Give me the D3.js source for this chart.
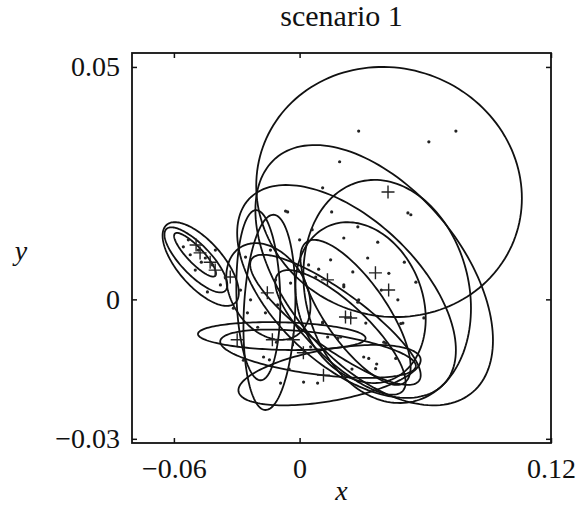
<!DOCTYPE html>
<html>
<head>
<meta charset="utf-8">
<script src="https://cdn.jsdelivr.net/npm/d3@7/dist/d3.min.js"></script>
<style>
  html, body { margin: 0; padding: 0; background: #fff; }
  svg { display: block; }
  text { font-family: "Liberation Serif", "DejaVu Serif", serif; fill: #111; }
</style>
</head>
<body>
<svg id="chart" width="579" height="505"></svg>
<script>
// ---------------- data ----------------
const titleText = "scenario 1";
const xLabel = "x";
const yLabel = "y";
const xDomain = [-0.08, 0.12];
const yDomain = [-0.0309, 0.053];
const xTicks = [-0.06, 0, 0.12];
const xTickLabels = ["\u22120.06", "0", "0.12"];
const yTicks = [-0.03, 0, 0.05];
const yTickLabels = ["\u22120.03", "0", "0.05"];

// confidence ellipses: centre, half-extent in x and y, correlation
const ellipseCx  = [0.0427, 0.0356, 0.0224, 0.0418, 0.0291, 0.0267, -0.0472, -0.0495, -0.0499, -0.0085, 0.0088, -0.0144, -0.0149, 0.0143, 0.0171, 0.0195, -0.0197];
const ellipseCy  = [0.0231, 0.0052, 0.0017, 0.0017, -0.0007, -0.0028, 0.0076, 0.0085, 0.0096, -0.0079, -0.0117, -0.0028, 0.0017, -0.0163, -0.0044, -0.0071, 0.0009];
const ellipseSx  = [0.0634, 0.0567, 0.0522, 0.0400, 0.0311, 0.0263, 0.0182, 0.0150, 0.0100, 0.0400, 0.0467, 0.0124, 0.0201, 0.0435, 0.0407, 0.0311, 0.0105];
const ellipseSy  = [0.0269, 0.0280, 0.0229, 0.0240, 0.0173, 0.0156, 0.0090, 0.0070, 0.0047, 0.0030, 0.0052, 0.0210, 0.0104, 0.0065, 0.0140, 0.0134, 0.0183];
const ellipseRho = [-0.05, -0.5, -0.55, -0.15, -0.2, -0.75, -0.68, -0.78, -0.86, -0.15, -0.5, 0.15, -0.3, 0.5, -0.85, -0.8, -0.1];

// component means (plus markers)
const meanX = [0.0422, 0.0362, 0.0133, 0.0425, 0.0219, -0.0130, -0.0298, -0.0030, 0.0018, 0.0114, -0.0331, -0.0475, -0.0427, -0.0494, -0.0403, -0.0154, 0.0244];
const meanY = [0.0231, 0.0057, 0.0042, 0.0020, -0.0038, -0.0087, -0.0087, -0.0087, -0.0115, -0.0163, 0.0048, 0.0100, 0.0080, 0.0117, 0.0063, 0.0014, -0.0040];

// sample points (dots)
const dotX = [0.0282, 0.0746, 0.0617, 0.0191, 0.0110, -0.0057, 0.0153, 0.0517, 0.0531, 0.0211, 0.0373, 0.0278, 0.0325, 0.0091, 0.0555, 0.0469, 0.0282, 0.0211, 0.0110, 0.0493, 0.0593, 0.0316, 0.0077, 0.0148, 0.0402, 0.0306, 0.0368, 0.0086, 0.0019, 0.0211, -0.0091, -0.0172, 0.0134, 0.0196, 0.0053, -0.0105, -0.0234, -0.0249, -0.0163, -0.0115, -0.0043, -0.0258, 0.0000, 0.0043, 0.0254, -0.0067, 0.0211, 0.0426, 0.0278, 0.0110, 0.0483, 0.0411, 0.0182, 0.0330, 0.0363, 0.0459, -0.0144, -0.0268, -0.0110, -0.0555, -0.0522, -0.0483, -0.0450, -0.0416, -0.0440, -0.0354, -0.0498, -0.0402, -0.0531, -0.0378, -0.0469, -0.0282, -0.0139, -0.0316, 0.0390, 0.0250, -0.0200, 0.0500, 0.0060, -0.0050];
const dotY = [0.0362, 0.0362, 0.0339, 0.0296, 0.0240, 0.0188, 0.0188, 0.0186, 0.0182, 0.0132, 0.0123, 0.0156, 0.0089, 0.0065, 0.0037, -0.0001, -0.0001, 0.0027, -0.0051, -0.0051, -0.0040, -0.0051, 0.0048, 0.0085, -0.0092, -0.0124, -0.0139, -0.0180, -0.0178, -0.0167, -0.0180, -0.0124, -0.0081, -0.0081, -0.0102, -0.0012, -0.0001, -0.0029, -0.0029, 0.0042, 0.0035, 0.0091, 0.0128, 0.0074, 0.0059, 0.0190, 0.0031, 0.0056, -0.0006, -0.0049, -0.0052, -0.0094, -0.0084, -0.0127, -0.0149, -0.0127, -0.0130, -0.0131, -0.0092, 0.0113, 0.0096, 0.0106, 0.0089, 0.0074, 0.0016, 0.0046, 0.0063, 0.0106, 0.0128, 0.0031, 0.0080, 0.0020, 0.0106, -0.0019, 0.0020, -0.0150, -0.0060, 0.0080, 0.0150, -0.0150];

// ---------------- drawing ----------------
const W = 579, H = 505;
const margin = { left: 132, right: 28, top: 53, bottom: 62 };
const svg = d3.select("#chart");

const x = d3.scaleLinear().domain(xDomain).range([margin.left, W - margin.right]);
const y = d3.scaleLinear().domain(yDomain).range([H - margin.bottom, margin.top]);

svg.append("defs").append("clipPath").attr("id", "clip")
  .append("rect")
  .attr("x", x(xDomain[0])).attr("y", y(yDomain[1]))
  .attr("width", x(xDomain[1]) - x(xDomain[0]))
  .attr("height", y(yDomain[0]) - y(yDomain[1]));

const plot = svg.append("g").attr("clip-path", "url(#clip)");

// ellipses
const tSteps = d3.range(0, 160).map(i => i / 160 * 2 * Math.PI);
const line = d3.line().x(d => x(d[0])).y(d => y(d[1])).curve(d3.curveLinearClosed);
ellipseCx.forEach((cx, i) => {
  const cy = ellipseCy[i], sx = ellipseSx[i], sy = ellipseSy[i], r = ellipseRho[i];
  const pts = tSteps.map(t => [
    cx + sx * Math.cos(t),
    cy + sy * (r * Math.cos(t) + Math.sqrt(1 - r * r) * Math.sin(t))
  ]);
  plot.append("path")
    .attr("d", line(pts))
    .attr("fill", "none")
    .attr("stroke", "#111")
    .attr("stroke-width", 1.8);
});

// dots
plot.selectAll("circle.dot")
  .data(dotX.map((v, i) => [v, dotY[i]]))
  .join("circle")
  .attr("class", "dot")
  .attr("cx", d => x(d[0]))
  .attr("cy", d => y(d[1]))
  .attr("r", 1.6)
  .attr("fill", "#222");

// plus markers
plot.selectAll("path.mean")
  .data(meanX.map((v, i) => [v, meanY[i]]))
  .join("path")
  .attr("class", "mean")
  .attr("d", d => `M${x(d[0]) - 6.5},${y(d[1])}H${x(d[0]) + 6.5}M${x(d[0])},${y(d[1]) - 6.5}V${y(d[1]) + 6.5}`)
  .attr("stroke", "#222")
  .attr("stroke-width", 1.4)
  .attr("fill", "none");

// axes with inward ticks
const fontSize = 28;
const xAxisB = d3.axisBottom(x).tickValues(xTicks).tickSizeInner(-5).tickSizeOuter(0).tickPadding(15)
  .tickFormat((d, i) => xTickLabels[i]);
const xAxisT = d3.axisTop(x).tickValues(xTicks).tickSizeInner(-5).tickSizeOuter(0).tickFormat("");
const yAxisL = d3.axisLeft(y).tickValues(yTicks).tickSizeInner(-5).tickSizeOuter(0).tickPadding(12)
  .tickFormat((d, i) => yTickLabels[i]);
const yAxisR = d3.axisRight(y).tickValues(yTicks).tickSizeInner(-5).tickSizeOuter(0).tickFormat("");

function styleAxis(g) {
  g.select(".domain").remove();
  g.selectAll(".tick line").attr("stroke", "#111").attr("stroke-width", 1.5);
  g.selectAll(".tick text").attr("font-size", fontSize).attr("font-family", "Liberation Serif, serif").attr("fill", "#111");
}
svg.append("g").attr("transform", `translate(0,${y(yDomain[0])})`).call(xAxisB).call(styleAxis);
svg.append("g").attr("transform", `translate(0,${y(yDomain[1])})`).call(xAxisT).call(styleAxis);
svg.append("g").attr("transform", `translate(${x(xDomain[0])},0)`).call(yAxisL).call(styleAxis);
svg.append("g").attr("transform", `translate(${x(xDomain[1])},0)`).call(yAxisR).call(styleAxis);

// frame
svg.append("rect")
  .attr("x", x(xDomain[0])).attr("y", y(yDomain[1]))
  .attr("width", x(xDomain[1]) - x(xDomain[0]))
  .attr("height", y(yDomain[0]) - y(yDomain[1]))
  .attr("fill", "none").attr("stroke", "#111").attr("stroke-width", 1.8);

// title & labels
const midX = (x(xDomain[0]) + x(xDomain[1])) / 2;
const midY = (y(yDomain[0]) + y(yDomain[1])) / 2;
svg.append("text").attr("x", midX).attr("y", 26).attr("text-anchor", "middle")
  .attr("font-size", 30).text(titleText);
svg.append("text").attr("x", midX).attr("y", 500).attr("text-anchor", "middle")
  .attr("font-size", 28).attr("font-style", "italic").text(xLabel);
svg.append("text").attr("x", 21).attr("y", midY + 12).attr("text-anchor", "middle")
  .attr("font-size", 28).attr("font-style", "italic").text(yLabel);
</script>
</body>
</html>
